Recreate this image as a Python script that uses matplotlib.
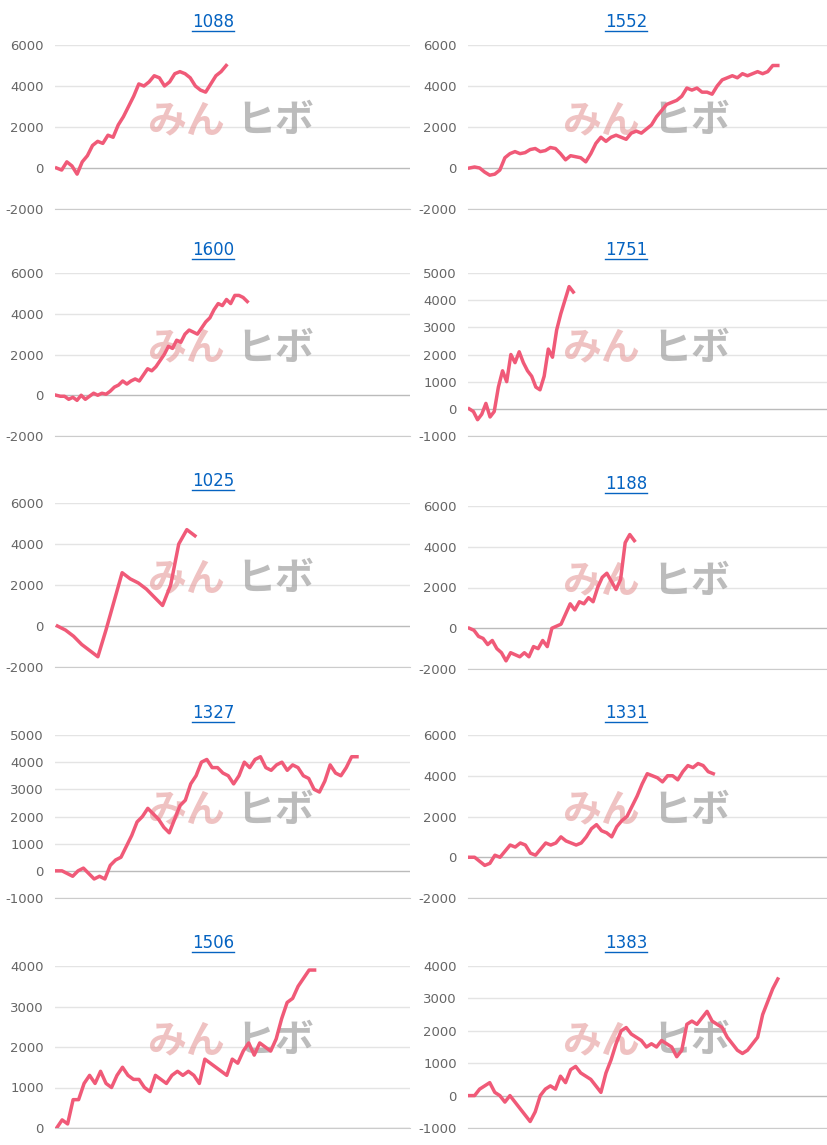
import matplotlib
matplotlib.use("Agg")
import matplotlib.pyplot as plt

titles = ["1088", "1552", "1600", "1751", "1025", "1188", "1327", "1331", "1506", "1383"]

s1088 = [0, -100, 300, 100, -300, 300, 600, 1100, 1300, 1200, 1600, 1500, 2100, 2500, 3000,
         3500, 4100, 4000, 4200, 4500, 4400, 4000, 4200, 4600, 4700, 4600, 4400, 4000, 3800,
         3700, 4100, 4500, 4700, 5000]
s1552 = [0, 50, 0, -200, -350, -300, -100, 500, 700, 800, 700, 750, 900, 950, 800, 850, 1000,
         950, 700, 400, 600, 550, 500, 300, 700, 1200, 1500, 1300, 1500, 1600, 1500, 1400, 1700,
         1800, 1700, 1900, 2100, 2500, 2800, 3100, 3200, 3300, 3500, 3900, 3800, 3900, 3700,
         3700, 3600, 4000, 4300, 4400, 4500, 4400, 4600, 4500, 4600, 4700, 4600, 4700, 5000, 5000]
s1600 = [0, -50, -50, -200, -100, -250, 0, -200, -50, 100, 0, 100, 50, 200, 400, 500, 700, 550,
         700, 800, 700, 1000, 1300, 1200, 1400, 1700, 2000, 2400, 2300, 2700, 2600, 3000, 3200,
         3100, 3000, 3300, 3600, 3800, 4200, 4500, 4400, 4700, 4500, 4900, 4900, 4800, 4600]
s1751 = [0, -100, -400, -200, 200, -300, -100, 800, 1400, 1000, 2000, 1700, 2100, 1700, 1400,
         1200, 800, 700, 1200, 2200, 1900, 2900, 3500, 4000, 4500, 4300]
s1025 = [0, -200, -500, -900, -1200, -1500, -200, 1200, 2600, 2300, 2100, 1800, 1400, 1000,
         2000, 4000, 4700, 4400]
s1188 = [0, -100, -400, -500, -800, -600, -1000, -1200, -1600, -1200, -1300, -1400, -1200,
         -1400, -900, -1000, -600, -900, 0, 100, 200, 700, 1200, 900, 1300, 1200, 1500, 1300,
         2000, 2500, 2700, 2300, 1900, 2400, 4200, 4600, 4300]
s1327 = [0, 0, -100, -200, 0, 100, -100, -300, -200, -300, 200, 400, 500, 900, 1300, 1800, 2000,
         2300, 2100, 1900, 1600, 1400, 1900, 2400, 2600, 3200, 3500, 4000, 4100, 3800, 3800, 3600,
         3500, 3200, 3500, 4000, 3800, 4100, 4200, 3800, 3700, 3900, 4000, 3700, 3900, 3800, 3500,
         3400, 3000, 2900, 3300, 3900, 3600, 3500, 3800, 4200, 4200]
s1331 = [0, 0, -200, -400, -300, 100, 0, 300, 600, 500, 700, 600, 200, 100, 400, 700, 600, 700,
         1000, 800, 700, 600, 700, 1000, 1400, 1600, 1300, 1200, 1000, 1500, 1800, 2000, 2500,
         3000, 3600, 4100, 4000, 3900, 3700, 4000, 4000, 3800, 4200, 4500, 4400, 4600, 4500,
         4200, 4100]
s1506 = [0, 200, 100, 700, 700, 1100, 1300, 1100, 1400, 1100, 1000, 1300, 1500, 1300, 1200,
         1200, 1000, 900, 1300, 1200, 1100, 1300, 1400, 1300, 1400, 1300, 1100, 1700, 1600, 1500,
         1400, 1300, 1700, 1600, 1900, 2100, 1800, 2100, 2000, 1900, 2200, 2700, 3100, 3200,
         3500, 3700, 3900, 3900]
s1383 = [0, 0, 200, 300, 400, 100, 0, -200, 0, -200, -400, -600, -800, -500, 0, 200, 300, 200,
         600, 400, 800, 900, 700, 600, 500, 300, 100, 700, 1100, 1600, 2000, 2100, 1900, 1800,
         1700, 1500, 1600, 1500, 1700, 1600, 1500, 1200, 1400, 2200, 2300, 2200, 2400, 2600,
         2300, 2200, 2100, 1800, 1600, 1400, 1300, 1400, 1600, 1800, 2500, 2900, 3300, 3600]
series = [s1088, s1552, s1600, s1751, s1025, s1188, s1327, s1331, s1506, s1383]

yticks = [
    [-2000, 0, 2000, 4000, 6000], [-2000, 0, 2000, 4000, 6000],
    [-2000, 0, 2000, 4000, 6000], [-1000, 0, 1000, 2000, 3000, 4000, 5000],
    [-2000, 0, 2000, 4000, 6000], [-2000, 0, 2000, 4000, 6000],
    [-1000, 0, 1000, 2000, 3000, 4000, 5000], [-2000, 0, 2000, 4000, 6000],
    [0, 1000, 2000, 3000, 4000], [-1000, 0, 1000, 2000, 3000, 4000],
]
# fraction of the x range covered by each line
spans = [0.48, 0.86, 0.54, 0.29, 0.39, 0.46, 0.85, 0.68, 0.73, 0.86]

W, H = 827, 1145
fig = plt.figure(figsize=(W / 100, H / 100), dpi=100)

# (top, bottom) pixel rows of each plot area and title y
rows = [(45, 209, 22), (273, 436, 250), (503, 667, 481), (735, 898, 713), (966, 1128, 943)]
cols = [(55, 410, 213), (468, 828, 626)]
title_y_right = [22, 250, 484, 713, 943]

for i, (name, data) in enumerate(zip(titles, series)):
    r, c = divmod(i, 2)
    top, bot, ty = rows[r]
    if c == 1:
        ty = title_y_right[r]
        if r == 2:
            top, bot = 506, 669
    x0, x1, tx = cols[c]
    ax = fig.add_axes([x0 / W, 1 - bot / H, (x1 - x0) / W, (bot - top) / H])
    ticks = yticks[i]
    ax.set_ylim(ticks[0], ticks[-1])
    ax.set_yticks(ticks)
    ax.set_yticklabels([str(t) for t in ticks])
    ax.set_xlim(-0.3, (len(data) - 1) / spans[i])
    ax.set_xticks([])
    for t in ticks:
        ax.axhline(t, color="#bbbbbb" if t == 0 else "#e4e4e4", lw=1, zorder=1)
    for s in ["top", "right", "left"]:
        ax.spines[s].set_visible(False)
    ax.spines["bottom"].set_color("#cccccc")
    ax.tick_params(axis="y", length=0, labelsize=9.5, labelcolor="#666666", pad=8)
    ax.plot(range(len(data)), data, color="#f05a78", lw=2.5, zorder=3,
            solid_joinstyle="round")
    # watermark
    ax.text(0.37, 0.54, "みん", transform=ax.transAxes, fontsize=28, fontweight="bold",
            color="#e59a9a", alpha=0.6, ha="center", va="center",
            family=["Noto Sans CJK JP", "DejaVu Sans"], zorder=2)
    ax.text(0.62, 0.54, "ヒボ", transform=ax.transAxes, fontsize=28, fontweight="bold",
            color="#a0a0a0", alpha=0.7, ha="center", va="center",
            family=["Noto Sans CJK JP", "DejaVu Sans"], zorder=2)
    fig.text(tx / W, 1 - ty / H, name, fontsize=12, color="#0563c1",
             ha="center", va="center")
    fig.add_artist(plt.Line2D([(tx - 21) / W, (tx + 21) / W],
                              [1 - (ty + 9) / H, 1 - (ty + 9) / H],
                              color="#0563c1", lw=1))

fig.savefig("out.png", dpi=100, facecolor="white")
